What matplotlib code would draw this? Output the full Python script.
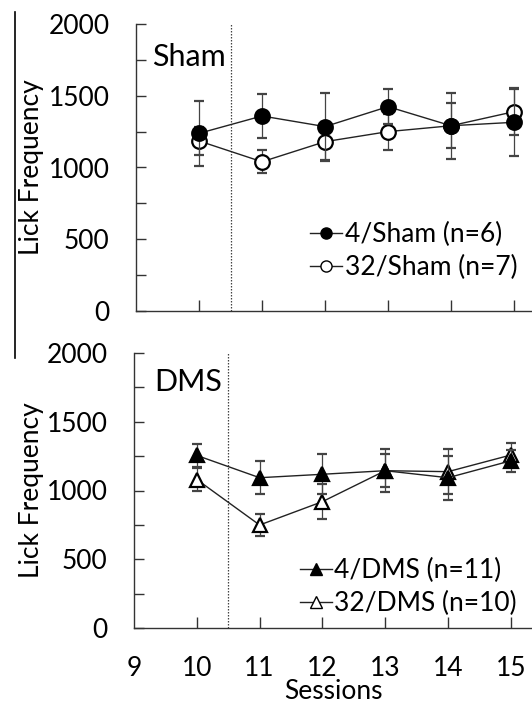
import numpy as np
import matplotlib.pyplot as plt
from matplotlib.lines import Line2D

plt.rcParams['font.family'] = ['Lato', 'DejaVu Sans']

sessions = [10, 11, 12, 13, 14, 15]

sham4 = [1238, 1359, 1285, 1424, 1291, 1315]
sham4_err = [228, 150, 235, 120, 230, 236]
sham32 = [1185, 1040, 1180, 1250, 1291, 1389]
sham32_err = [100, 80, 135, 125, 158, 160]

dms4 = [1255, 1093, 1118, 1144, 1093, 1216]
dms4_err = [82, 122, 145, 155, 160, 80]
dms32 = [1080, 749, 919, 1144, 1137, 1258]
dms32_err = [85, 82, 125, 120, 165, 90]

yticks_major = [0, 500, 1000, 1500, 2000]
xticks = [9, 10, 11, 12, 13, 14, 15]

W, H = 532, 704
fig = plt.figure(figsize=(W/100, H/100), dpi=100)

ax1 = fig.add_axes([136/W, 1-311/H, (W-136)/W, 287/H])
ax2 = fig.add_axes([134/W, 1-628/H, (W-134)/W, 275/H])

fs = 19
axcol = '#333333'


def style(ax, xmax, show_x, left_px):
    ax.set_xlim(9, xmax)
    ax.set_ylim(0, 2000)
    for s in ['top', 'right']:
        ax.spines[s].set_visible(False)
    for s in ['left', 'bottom']:
        ax.spines[s].set_color(axcol)
        ax.spines[s].set_linewidth(1.0)
    ax.set_yticks(yticks_major)
    ax.set_yticks(np.arange(250, 2000, 500), minor=True)
    ax.set_xticks(xticks[1:])
    ax.tick_params(axis='both', which='both', direction='in', color=axcol,
                   width=1.0, labelsize=fs)
    ax.tick_params(axis='y', which='major', length=7, pad=19)
    ax.tick_params(axis='y', which='minor', length=7)
    ax.tick_params(axis='x', which='major', length=8, pad=20.5)
    if show_x:
        ax.set_xticks(xticks)
        ax.set_xticklabels([str(x) for x in xticks])
    else:
        ax.set_xticklabels([])
    ax.axvline(10.5, color='#444444', lw=0.9, ls=(0, (1.2, 1.2)),
               ymax=1.0)
    ax.set_ylabel('Lick Frequency', fontsize=fs)
    ax.yaxis.set_label_coords(-(left_px - 44) / (W - left_px), 0.5)


style(ax1, 9 + (W-136)/63.0, False, 136)
style(ax2, 9 + (W-134)/62.8, True, 134)
ax2.xaxis.get_major_ticks()[0].tick1line.set_visible(False)

ekw = dict(color='#222222', lw=1.0, capsize=3.5, elinewidth=0.9,
           ecolor='#444444', capthick=0.9, ms=10.5, mew=1.6, clip_on=False)

ax1.errorbar(sessions, sham4, yerr=sham4_err, marker='o', mfc='black',
             mec='black', label='4/Sham (n=6)', zorder=4, **ekw)
ax1.errorbar(sessions, sham32, yerr=sham32_err, marker='o', mfc='white',
             mec='black', label='32/Sham (n=7)', zorder=3, **ekw)

ax2.errorbar(sessions, dms4, yerr=dms4_err, marker='^', mfc='black',
             mec='black', label='4/DMS (n=11)', zorder=4, **ekw)
ax2.errorbar(sessions, dms32, yerr=dms32_err, marker='^', mfc='white',
             mec='black', label='32/DMS (n=10)', zorder=3, **ekw)

ax1.text(0.04, 0.885, 'Sham', transform=ax1.transAxes, fontsize=22,
         va='center', ha='left')
ax2.text(0.05, 0.895, 'DMS', transform=ax2.transAxes, fontsize=22,
         va='center', ha='left')

for ax, anchor in [(ax1, (0.44, 0.21)), (ax2, (0.417, 0.148))]:
    h, l = ax.get_legend_handles_labels()
    hs = [Line2D([0], [0], color='#222222', lw=1.0, marker=hh[0].get_marker(),
                 mfc=hh[0].get_markerfacecolor(), mec='black', ms=8, mew=1.0)
          for hh in h]
    ax.legend(hs, l, loc='center left', bbox_to_anchor=anchor, frameon=False,
              fontsize=fs, handlelength=1.2, handletextpad=0.1,
              labelspacing=0.3, borderpad=0, borderaxespad=0)

ax2.set_xlabel('Sessions', fontsize=fs, labelpad=-2)

fig.add_artist(Line2D([15/W, 15/W], [1-12/H, 1-358/H], color='black', lw=1.2))

plt.savefig('out.png', dpi=100)
